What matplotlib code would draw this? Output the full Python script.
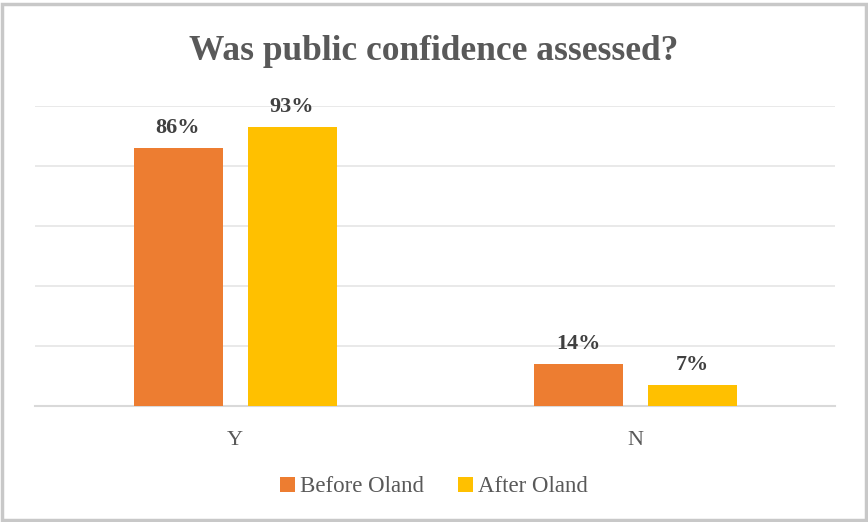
import matplotlib

matplotlib.use("Agg")
import matplotlib.pyplot as plt
from matplotlib.patches import Rectangle
import numpy as np

categories = ["Y", "N"]
before_vals = [86, 14]
after_vals = [93, 7]
series_names = ["Before Oland", "After Oland"]

plt.rcParams["font.family"] = ["Liberation Serif", "DejaVu Serif"]

fig = plt.figure(figsize=(8.68, 5.22), dpi=100)
ax = fig.add_axes([35 / 868, 116 / 522, 800 / 868, 300 / 522])

x = np.arange(len(categories))
w = 0.2225
off = 0.1425
colors = ["#ED7D31", "#FFC000"]
bars_b = ax.bar(x - off, before_vals, width=w, color=colors[0], label=series_names[0], zorder=3)
bars_a = ax.bar(x + off, after_vals, width=w, color=colors[1], label=series_names[1], zorder=3)

for bars, vals in ((bars_b, before_vals), (bars_a, after_vals)):
    for b, v in zip(bars, vals):
        ax.text(b.get_x() + b.get_width() / 2, v + 3.3, f"{v}%", ha="center", va="bottom",
                fontsize=16, fontweight="bold", color="#404040")

ax.set_xlim(-0.5, 1.5)
ax.set_ylim(0, 100)
ax.set_yticks(np.arange(0, 101, 20))
ax.yaxis.grid(True, color="#E5E5E5", linewidth=1.2, zorder=0)
ax.tick_params(axis="y", left=False, labelleft=False)
ax.tick_params(axis="x", length=0, pad=18, labelsize=16, labelcolor="#595959")
ax.set_xticks(x)
ax.set_xticklabels(categories)
for s in ("top", "right", "left"):
    ax.spines[s].set_visible(False)
ax.spines["bottom"].set_color("#D9D9D9")
ax.spines["bottom"].set_linewidth(1.5)

fig.text(0.5, 1 - 51 / 522, "Was public confidence assessed?", ha="center", va="center",
         fontsize=25.5, fontweight="bold", color="#595959")

leg = fig.legend(loc="center", bbox_to_anchor=(0.5, 1 - 487 / 522), ncol=2, frameon=False,
                 fontsize=16.5, handlelength=0.65, handleheight=0.65, handletextpad=0.2,
                 columnspacing=1.5)
for t in leg.get_texts():
    t.set_color("#595959")

fig.patches.append(Rectangle((2 / 868, 2 / 522), 864 / 868, 516 / 522, transform=fig.transFigure,
                             fill=False, edgecolor="#C8C8C8", linewidth=2.5))

fig.savefig("out.png", dpi=100)
